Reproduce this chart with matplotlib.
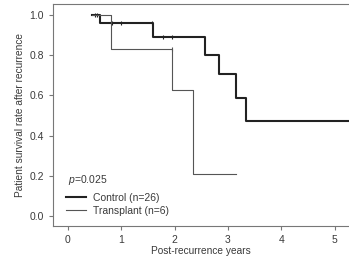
import numpy as np
import matplotlib
matplotlib.use("Agg")
from matplotlib import pyplot as plt
from matplotlib import font_manager

# Kaplan-Meier steps
control_times = [0.45, 0.60, 1.60, 2.57, 2.83, 3.15, 3.33]
control_surv = [1.0, 0.96, 0.89, 0.80, 0.706, 0.587, 0.47]
control_end = 5.27
control_censor = [0.50, 0.55, 0.83, 1.00, 1.57, 1.78, 1.95]

transplant_times = [0.45, 0.81, 1.95, 2.35]
transplant_surv = [1.0, 0.833, 0.625, 0.208]
transplant_end = 3.16
transplant_censor = [1.95]

x_ticks = [0, 1, 2, 3, 4, 5]
y_ticks = [0.0, 0.2, 0.4, 0.6, 0.8, 1.0]

names = {f.name for f in font_manager.fontManager.ttflist}
fam = 'Liberation Sans Narrow' if 'Liberation Sans Narrow' in names else 'Liberation Sans'
plt.rcParams['font.family'] = [fam, 'DejaVu Sans']
plt.rcParams['mathtext.fontset'] = 'custom'
plt.rcParams['mathtext.it'] = fam + ':italic'
plt.rcParams['mathtext.rm'] = fam

text_col = '#3a3a3a'
axis_col = '#777777'


def surv_at(times, surv, t):
    idx = np.searchsorted(times, t, side='right') - 1
    return surv[max(idx, 0)]


fig = plt.figure(figsize=(3.49, 2.60), dpi=100)
ax = fig.add_axes([0.152, 0.131, 0.848, 0.854])

ct = control_times + [control_end]
cs = control_surv + [control_surv[-1]]
ax.step(ct, cs, where='post', color='#222222', lw=1.5, label='Control (n=26)')
ax.plot(control_censor, [surv_at(control_times, control_surv, t) for t in control_censor],
        ls='none', marker='|', ms=3.5, mew=0.8, color='#222222')

tt = transplant_times + [transplant_end]
ts = transplant_surv + [transplant_surv[-1]]
ax.step(tt, ts, where='post', color='#555555', lw=0.8, label='Transplant (n=6)')
ax.plot(transplant_censor, [0.833], ls='none', marker='|', ms=3.5, mew=0.8, color='#555555')

ax.set_xlim(-0.28, 5.27)
ax.set_ylim(-0.05, 1.055)
ax.set_xticks(x_ticks)
ax.set_yticks(y_ticks)
ax.set_yticklabels(['%.1f' % v for v in y_ticks])
ax.tick_params(colors=axis_col, labelcolor=text_col, labelsize=7.5, length=3, width=0.8, direction='out')
for s in ['left', 'bottom', 'top']:
    ax.spines[s].set_color(axis_col)
    ax.spines[s].set_linewidth(0.8)
ax.spines['right'].set_visible(False)

ax.set_xlabel('Post-recurrence years', fontsize=7.3, color=text_col, labelpad=1)
ax.set_ylabel('Patient survival rate after recurrence', fontsize=7.3, color=text_col, labelpad=3)

ax.text(0.0, 0.18, '$p$=0.025', fontsize=7.5, color=text_col, va='center', ha='left')
ax.legend(loc='lower left', bbox_to_anchor=(0.02, 0.0135), frameon=False, fontsize=7.5,
          handlelength=1.9, handletextpad=0.7, labelspacing=0.3, labelcolor=text_col,
          borderaxespad=0.3)

fig.savefig('out.png', dpi=100)
